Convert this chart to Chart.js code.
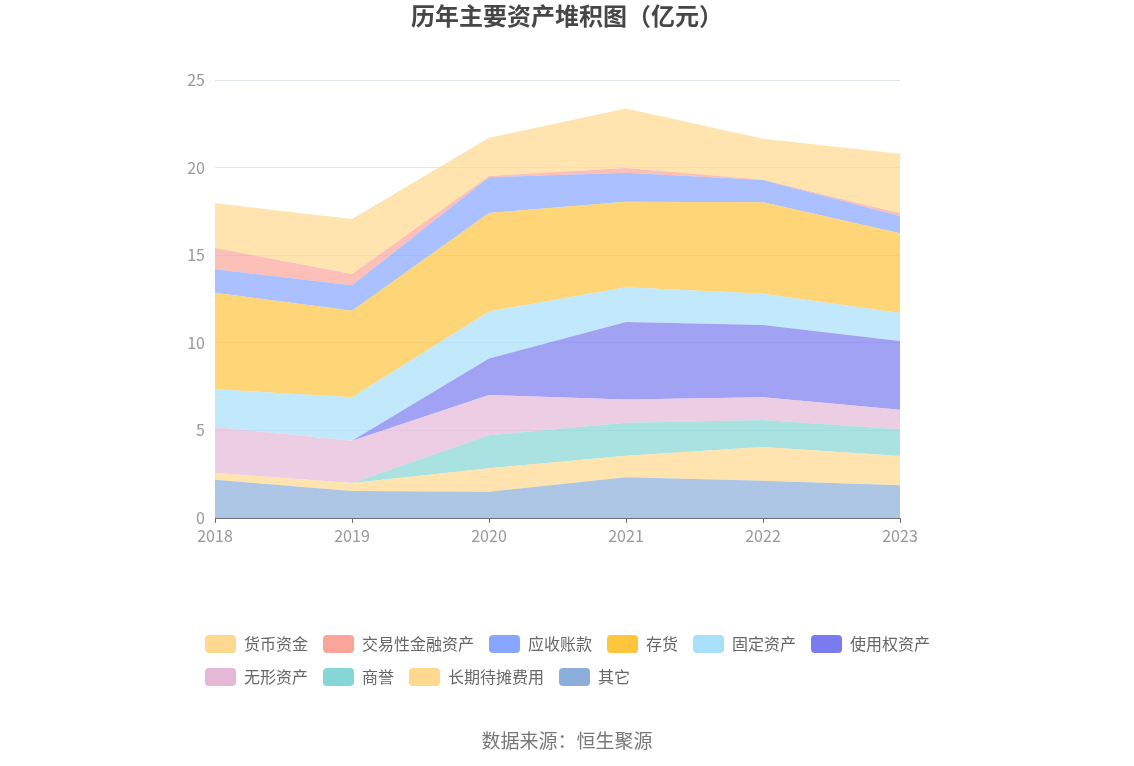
<!DOCTYPE html>
<html>
<head>
<meta charset="utf-8">
<title>历年主要资产堆积图</title>
<script src="https://cdn.jsdelivr.net/npm/chart.js@4/dist/chart.umd.min.js"></script>
<style>
    html, body { margin: 0; padding: 0; background: #fff; }
    #box { width: 1134px; height: 766px; }
</style>
</head>
<body>
<div id="box"><canvas id="grafico-ativos"></canvas></div>
<script>
// Dados (亿元), da base para o topo da pilha
const anos = ['2018', '2019', '2020', '2021', '2022', '2023'];
const qita = [2.19, 1.54, 1.50, 2.32, 2.13, 1.87];
const changqiDaitan = [0.38, 0.46, 1.34, 1.24, 1.92, 1.67];
const shangyu = [0, 0, 1.88, 1.88, 1.54, 1.52];
const wuxingZichan = [2.62, 2.41, 2.30, 1.33, 1.30, 1.12];
const shiyongquan = [0, 0, 2.09, 4.42, 4.13, 3.92];
const gudingZichan = [2.16, 2.48, 2.67, 1.98, 1.78, 1.60];
const cunhuo = [5.51, 4.94, 5.63, 4.88, 5.22, 4.55];
const yingshou = [1.34, 1.45, 2.04, 1.66, 1.27, 0.99];
const jiaoyixing = [1.21, 0.65, 0.07, 0.27, 0.02, 0.15];
const huobiZijin = [2.55, 3.14, 2.18, 3.40, 2.33, 3.40];

const series = [
    { nome: '其它', valores: qita, cor: '#8CAEDB' },
    { nome: '长期待摊费用', valores: changqiDaitan, cor: '#FFD88F' },
    { nome: '商誉', valores: shangyu, cor: '#86D6D6' },
    { nome: '无形资产', valores: wuxingZichan, cor: '#E5B8D8' },
    { nome: '使用权资产', valores: shiyongquan, cor: '#7B7BF0' },
    { nome: '固定资产', valores: gudingZichan, cor: '#A8E0FA' },
    { nome: '存货', valores: cunhuo, cor: '#FFC53D' },
    { nome: '应收账款', valores: yingshou, cor: '#88A6FF' },
    { nome: '交易性金融资产', valores: jiaoyixing, cor: '#FBA59A' },
    { nome: '货币资金', valores: huobiZijin, cor: '#FFD88F' }
];

const fonte = '"Noto Sans CJK SC", "Noto Sans", sans-serif';

function comAlfa(hex, a) {
    const r = parseInt(hex.slice(1, 3), 16);
    const g = parseInt(hex.slice(3, 5), 16);
    const b = parseInt(hex.slice(5, 7), 16);
    return `rgba(${r}, ${g}, ${b}, ${a})`;
}

const datasets = series.map((s, i) => ({
    label: s.nome,
    data: s.valores,
    backgroundColor: comAlfa(s.cor, 0.7),
    borderColor: 'rgba(0,0,0,0)',
    borderWidth: 0,
    pointRadius: 0,
    pointHoverRadius: 0,
    tension: 0,
    fill: i === 0 ? 'origin' : '-1'
}));

// Empurra a legenda um pouco para a direita, alinhada com o gráfico original
const deslocaLegenda = {
    id: 'deslocaLegenda',
    afterLayout(chart) {
        if (!chart.legend) return;
        chart.legend.left += 10;
        chart.legend.right += 10;
    }
};

new Chart(document.getElementById('grafico-ativos').getContext('2d'), {
    type: 'line',
    data: { labels: anos, datasets: datasets },
    plugins: [deslocaLegenda],
    options: {
        responsive: true,
        maintainAspectRatio: false,
        animation: false,
        layout: { padding: { left: 180, right: 180, top: 0, bottom: 0 } },
        scales: {
            x: {
                grid: { drawOnChartArea: false, drawTicks: true, tickLength: 5, color: '#6E7079' },
                border: { display: true, color: '#6E7079' },
                ticks: { color: '#999', padding: 3, font: { family: fonte, size: 16 } },
                afterFit: s => { s.height = 102; }
            },
            y: {
                stacked: true,
                min: 0,
                max: 25,
                grid: { color: '#E0E6F1', drawTicks: false },
                border: { display: false },
                ticks: { stepSize: 5, color: '#999', padding: 10, font: { family: fonte, size: 16 } },
                afterFit: s => { s.width = 35; }
            },
            y2: {
                position: 'right',
                grid: { display: false },
                border: { display: false },
                ticks: { display: false },
                afterFit: s => { s.width = 54; }
            }
        },
        plugins: {
            title: {
                display: true,
                text: '历年主要资产堆积图（亿元）',
                color: '#464646',
                font: { family: fonte, size: 24, weight: 'bold' },
                padding: { top: 1.6, bottom: 49.6 }
            },
            subtitle: {
                display: true,
                position: 'bottom',
                text: '数据来源：恒生聚源',
                color: '#777',
                font: { family: fonte, size: 19, weight: 'normal' },
                padding: { top: 33.6, bottom: 13.6 }
            },
            legend: {
                display: true,
                position: 'bottom',
                align: 'start',
                reverse: true,
                labels: {
                    boxWidth: 31,
                    boxHeight: 18,
                    padding: 15,
                    color: '#666',
                    useBorderRadius: true,
                    borderRadius: 4,
                    font: { family: fonte, size: 16 },
                    generateLabels: function (chart) {
                        const itens = Chart.defaults.plugins.legend.labels.generateLabels(chart);
                        return itens.map(item => {
                            item.fillStyle = series[item.datasetIndex].cor;
                            item.strokeStyle = 'rgba(0,0,0,0)';
                            item.lineWidth = 0;
                            item.borderRadius = 4;
                            return item;
                        });
                    }
                }
            },
            tooltip: { enabled: false }
        }
    }
});
</script>
</body>
</html>
